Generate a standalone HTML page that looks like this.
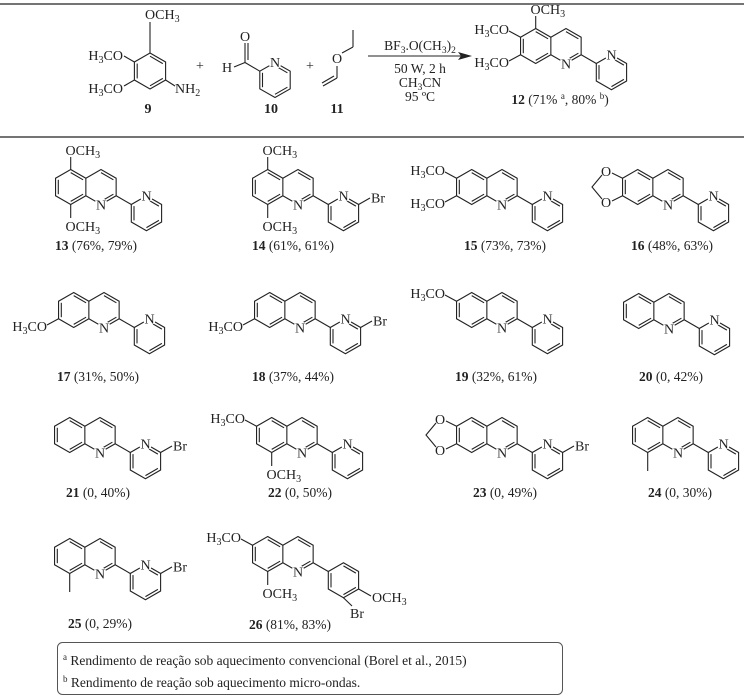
<!DOCTYPE html>
<html><head><meta charset="utf-8"><style>
html,body{margin:0;padding:0;background:#fff;}
svg{display:block;}
text{font-family:"Liberation Serif",serif;font-size:14px;fill:#222;}
.l{font-size:13.5px;}
</style></head><body>
<svg width="749" height="697" viewBox="0 0 749 697" xmlns="http://www.w3.org/2000/svg">
<defs>
<g id="q" stroke="#222" stroke-width="1.1" fill="none">
<polygon points="-30.3,-17.5 -15.15,-8.75 -15.15,8.75 -30.3,17.5 -45.45,8.75 -45.45,-8.75"/>
<polyline points="-15.15,-8.75 0,-17.5 15.15,-8.75 15.15,8.75 0,17.5 -15.15,8.75"/>
<line x1="-17.9" y1="-7.2" x2="-30.3" y2="-14.35"/>
<line x1="-42.7" y1="-7.2" x2="-42.7" y2="7.2"/>
<line x1="-30.3" y1="14.35" x2="-17.9" y2="7.2"/>
<line x1="0" y1="-14.35" x2="12.4" y2="-7.2"/>
<line x1="12.4" y1="7.2" x2="0" y2="14.35"/>
<circle cx="0" cy="17.5" r="6.5" fill="#fff" stroke="none"/>
</g>
<g id="p" stroke="#222" stroke-width="1.1" fill="none">
<line x1="15.15" y1="8.75" x2="30.3" y2="17.5"/>
<polygon points="45.45,8.75 60.6,17.5 60.6,35 45.45,43.75 30.3,35 30.3,17.5"/>
<line x1="33" y1="19.1" x2="33" y2="33.4"/>
<line x1="45.45" y1="40.6" x2="57.9" y2="33.4"/>
<line x1="45.45" y1="11.9" x2="57.9" y2="19.1"/>
<circle cx="45.45" cy="8.75" r="6.5" fill="#fff" stroke="none"/>
</g>
<g id="a" stroke="#222" stroke-width="1.1" fill="none">
<line x1="15.15" y1="8.75" x2="30.3" y2="17.5"/>
<polygon points="45.45,8.75 60.6,17.5 60.6,35 45.45,43.75 30.3,35 30.3,17.5"/>
<line x1="33" y1="19.1" x2="33" y2="33.4"/>
<line x1="45.45" y1="40.6" x2="57.9" y2="33.4"/>
<line x1="45.45" y1="11.9" x2="57.9" y2="19.1"/>
</g>
<g id="br" stroke="#222" stroke-width="1.1"><line x1="60.6" y1="17.5" x2="72" y2="11"/></g>
<g id="c5" stroke="#222" stroke-width="1.1"><line x1="-30.3" y1="-17.5" x2="-30.3" y2="-30"/></g>
<g id="c8" stroke="#222" stroke-width="1.1"><line x1="-30.3" y1="17.5" x2="-30.3" y2="31"/></g>
<g id="me" stroke="#222" stroke-width="1.1"><line x1="-30.3" y1="17.5" x2="-30.3" y2="36"/></g>
<g id="c6" stroke="#222" stroke-width="1.1"><line x1="-45.45" y1="-8.75" x2="-57" y2="-15"/></g>
<g id="c7" stroke="#222" stroke-width="1.1"><line x1="-45.45" y1="8.75" x2="-57" y2="15"/></g>
<g id="md" stroke="#222" stroke-width="1.1" fill="none">
<line x1="-45.45" y1="-8.75" x2="-56" y2="-14"/>
<line x1="-45.45" y1="8.75" x2="-56" y2="14"/>
<polyline points="-66,-12 -76,0 -66,12"/>
</g>
</defs>

<line x1="0" y1="4" x2="744" y2="4" stroke="#222" stroke-width="1.3"/>
<line x1="0" y1="137" x2="744" y2="137" stroke="#222" stroke-width="1.3"/>

<!-- compound 9 -->
<g stroke="#222" stroke-width="1.1" fill="none">
<polygon points="150,53 165.6,62 165.6,80 150,89 134.4,80 134.4,62"/>
<line x1="137.2" y1="63.6" x2="137.2" y2="78.4"/>
<line x1="150" y1="85.8" x2="162.8" y2="78.4"/>
<line x1="150" y1="56.2" x2="162.8" y2="63.6"/>
<line x1="150" y1="53" x2="150" y2="22"/>
<line x1="134.4" y1="62" x2="124" y2="56"/>
<line x1="134.4" y1="80" x2="124" y2="86"/>
<line x1="165.6" y1="80" x2="175" y2="86"/>
</g>
<text x="145" y="19">OCH<tspan font-size="10" dy="3">3</tspan></text>
<text x="123" y="60" text-anchor="end">H<tspan font-size="10" dy="3">3</tspan><tspan dy="-3">CO</tspan></text>
<text x="123" y="93" text-anchor="end">H<tspan font-size="10" dy="3">3</tspan><tspan dy="-3">CO</tspan></text>
<text x="175" y="93">NH<tspan font-size="10" dy="3">2</tspan></text>
<text x="148" y="113" text-anchor="middle" font-weight="bold">9</text>
<text x="200" y="70" text-anchor="middle">+</text>

<!-- compound 10 -->
<g stroke="#222" stroke-width="1.1" fill="none">
<polygon points="275,62.5 290.2,71.2 290.2,88.8 275,97.5 259.8,88.8 259.8,71.2"/>
<line x1="262.5" y1="72.8" x2="262.5" y2="87.2"/>
<line x1="275" y1="94.3" x2="287.4" y2="87.2"/>
<line x1="275" y1="65.7" x2="287.4" y2="72.8"/>
<line x1="259.8" y1="71.2" x2="245" y2="62.5"/>
<line x1="245" y1="62.5" x2="245" y2="43"/>
<line x1="248" y1="60" x2="248" y2="43"/>
<line x1="245" y1="62.5" x2="234" y2="67"/>
</g>
<circle cx="275" cy="62.5" r="6.5" fill="#fff"/>
<text x="270" y="67">N</text>
<text x="240" y="41">O</text>
<text x="222" y="72">H</text>
<text x="271" y="113" text-anchor="middle" font-weight="bold">10</text>
<text x="310" y="70" text-anchor="middle">+</text>

<!-- compound 11 -->
<g stroke="#222" stroke-width="1.1" fill="none">
<line x1="342" y1="53" x2="353" y2="47"/>
<line x1="353" y1="47" x2="353" y2="30"/>
<line x1="337" y1="66" x2="337" y2="78"/>
<line x1="337" y1="78" x2="323" y2="86"/>
<line x1="334" y1="76" x2="322" y2="83"/>
</g>
<text x="332" y="63">O</text>
<text x="337" y="113" text-anchor="middle" font-weight="bold">11</text>

<!-- arrow -->
<line x1="368" y1="56" x2="462" y2="56" stroke="#222" stroke-width="1.1"/>
<polygon points="472,56 458,52 461,56 458,60" fill="#222"/>
<text x="420" y="50" text-anchor="middle" class="l">BF<tspan font-size="9.5" dy="3">3</tspan><tspan dy="-3">.O(CH</tspan><tspan font-size="9.5" dy="3">3</tspan><tspan dy="-3">)</tspan><tspan font-size="9.5" dy="3">2</tspan></text>
<text x="420" y="73" text-anchor="middle" class="l">50 W, 2 h</text>
<text x="420" y="87" text-anchor="middle" class="l">CH<tspan font-size="9.5" dy="3">3</tspan><tspan dy="-3">CN</tspan></text>
<text x="420" y="101" text-anchor="middle" class="l">95 ºC</text>

<!-- compound 12 -->
<g transform="translate(566,46)">
<use href="#q"/><use href="#p"/><use href="#c5"/><use href="#c6"/><use href="#c7"/>
<text x="-5" y="22.5">N</text><text x="40.5" y="13.5">N</text>
<text x="-35.5" y="-32">OCH<tspan font-size="10" dy="3">3</tspan></text>
<text x="-57" y="-12" text-anchor="end">H<tspan font-size="10" dy="3">3</tspan><tspan dy="-3">CO</tspan></text>
<text x="-57" y="21" text-anchor="end">H<tspan font-size="10" dy="3">3</tspan><tspan dy="-3">CO</tspan></text>
</g>
<text x="560" y="104" text-anchor="middle" class="l"><tspan font-weight="bold">12</tspan> (71% <tspan font-size="9" dy="-5">a</tspan><tspan dy="5">, 80% </tspan><tspan font-size="9" dy="-5">b</tspan><tspan dy="5">)</tspan></text>

<!-- Row 1 -->
<g transform="translate(101,187)">
<use href="#q"/><use href="#p"/><use href="#c5"/><use href="#c8"/>
<text x="-5" y="22.5">N</text><text x="40.5" y="13.5">N</text>
<text x="-35.5" y="-32">OCH<tspan font-size="10" dy="3">3</tspan></text>
<text x="-35.5" y="44">OCH<tspan font-size="10" dy="3">3</tspan></text>
</g>
<text x="96" y="250" text-anchor="middle" class="l"><tspan font-weight="bold">13</tspan> (76%, 79%)</text>

<g transform="translate(298,187)">
<use href="#q"/><use href="#p"/><use href="#c5"/><use href="#c8"/><use href="#br"/>
<text x="-5" y="22.5">N</text><text x="40.5" y="13.5">N</text><text x="73" y="15.5">Br</text>
<text x="-35.5" y="-32">OCH<tspan font-size="10" dy="3">3</tspan></text>
<text x="-35.5" y="44">OCH<tspan font-size="10" dy="3">3</tspan></text>
</g>
<text x="293" y="250" text-anchor="middle" class="l"><tspan font-weight="bold">14</tspan> (61%, 61%)</text>

<g transform="translate(502,187)">
<use href="#q"/><use href="#p"/><use href="#c6"/><use href="#c7"/>
<text x="-5" y="22.5">N</text><text x="40.5" y="13.5">N</text>
<text x="-57" y="-12" text-anchor="end">H<tspan font-size="10" dy="3">3</tspan><tspan dy="-3">CO</tspan></text>
<text x="-57" y="21" text-anchor="end">H<tspan font-size="10" dy="3">3</tspan><tspan dy="-3">CO</tspan></text>
</g>
<text x="505" y="250" text-anchor="middle" class="l"><tspan font-weight="bold">15</tspan> (73%, 73%)</text>

<g transform="translate(668,187)">
<use href="#q"/><use href="#p"/><use href="#md"/>
<text x="-5" y="22.5">N</text><text x="40.5" y="13.5">N</text>
<text x="-67" y="-11">O</text><text x="-67" y="20">O</text>
</g>
<text x="672" y="250" text-anchor="middle" class="l"><tspan font-weight="bold">16</tspan> (48%, 63%)</text>

<!-- Row 2 -->
<g transform="translate(104,310)">
<use href="#q"/><use href="#p"/><use href="#c7"/>
<text x="-5" y="22.5">N</text><text x="40.5" y="13.5">N</text>
<text x="-57" y="21" text-anchor="end">H<tspan font-size="10" dy="3">3</tspan><tspan dy="-3">CO</tspan></text>
</g>
<text x="98" y="381" text-anchor="middle" class="l"><tspan font-weight="bold">17</tspan> (31%, 50%)</text>

<g transform="translate(300,310)">
<use href="#q"/><use href="#p"/><use href="#c7"/><use href="#br"/>
<text x="-5" y="22.5">N</text><text x="40.5" y="13.5">N</text><text x="73" y="15.5">Br</text>
<text x="-57" y="21" text-anchor="end">H<tspan font-size="10" dy="3">3</tspan><tspan dy="-3">CO</tspan></text>
</g>
<text x="293" y="381" text-anchor="middle" class="l"><tspan font-weight="bold">18</tspan> (37%, 44%)</text>

<g transform="translate(502,310)">
<use href="#q"/><use href="#p"/><use href="#c6"/>
<text x="-5" y="22.5">N</text><text x="40.5" y="13.5">N</text>
<text x="-57" y="-12" text-anchor="end">H<tspan font-size="10" dy="3">3</tspan><tspan dy="-3">CO</tspan></text>
</g>
<text x="496" y="381" text-anchor="middle" class="l"><tspan font-weight="bold">19</tspan> (32%, 61%)</text>

<g transform="translate(669,311)">
<use href="#q"/><use href="#p"/>
<text x="-5" y="22.5">N</text><text x="40.5" y="13.5">N</text>
</g>
<text x="671" y="381" text-anchor="middle" class="l"><tspan font-weight="bold">20</tspan> (0, 42%)</text>

<!-- Row 3 -->
<g transform="translate(100,435)">
<use href="#q"/><use href="#p"/><use href="#br"/>
<text x="-5" y="22.5">N</text><text x="40.5" y="13.5">N</text><text x="73" y="15.5">Br</text>
</g>
<text x="98" y="497" text-anchor="middle" class="l"><tspan font-weight="bold">21</tspan> (0, 40%)</text>

<g transform="translate(302,435)">
<use href="#q"/><use href="#p"/><use href="#c6"/><use href="#c8"/>
<text x="-5" y="22.5">N</text><text x="40.5" y="13.5">N</text>
<text x="-57" y="-12" text-anchor="end">H<tspan font-size="10" dy="3">3</tspan><tspan dy="-3">CO</tspan></text>
<text x="-35.5" y="44">OCH<tspan font-size="10" dy="3">3</tspan></text>
</g>
<text x="300" y="497" text-anchor="middle" class="l"><tspan font-weight="bold">22</tspan> (0, 50%)</text>

<g transform="translate(502,435)">
<use href="#q"/><use href="#p"/><use href="#md"/><use href="#br"/>
<text x="-5" y="22.5">N</text><text x="40.5" y="13.5">N</text><text x="73" y="15.5">Br</text>
<text x="-67" y="-11">O</text><text x="-67" y="20">O</text>
</g>
<text x="505" y="497" text-anchor="middle" class="l"><tspan font-weight="bold">23</tspan> (0, 49%)</text>

<g transform="translate(678,435)">
<use href="#q"/><use href="#p"/><use href="#me"/>
<text x="-5" y="22.5">N</text><text x="40.5" y="13.5">N</text>
</g>
<text x="680" y="497" text-anchor="middle" class="l"><tspan font-weight="bold">24</tspan> (0, 30%)</text>

<!-- Row 4 -->
<g transform="translate(100,556)">
<use href="#q"/><use href="#p"/><use href="#me"/><use href="#br"/>
<text x="-5" y="22.5">N</text><text x="40.5" y="13.5">N</text><text x="73" y="15.5">Br</text>
</g>
<text x="100" y="628" text-anchor="middle" class="l"><tspan font-weight="bold">25</tspan> (0, 29%)</text>

<g transform="translate(298,554)">
<use href="#q"/><use href="#a"/><use href="#c6"/><use href="#c8"/>
<line x1="60.6" y1="35" x2="73" y2="42" stroke="#222" stroke-width="1.1"/>
<line x1="45.45" y1="43.75" x2="54" y2="52" stroke="#222" stroke-width="1.1"/>
<text x="-5" y="22.5">N</text>
<text x="-57" y="-12" text-anchor="end">H<tspan font-size="10" dy="3">3</tspan><tspan dy="-3">CO</tspan></text>
<text x="-35.5" y="44">OCH<tspan font-size="10" dy="3">3</tspan></text>
<text x="74" y="48">OCH<tspan font-size="10" dy="3">3</tspan></text>
<text x="52" y="64">Br</text>
</g>
<text x="290" y="629" text-anchor="middle" class="l"><tspan font-weight="bold">26</tspan> (81%, 83%)</text>

<!-- footnote -->
<rect x="57.5" y="642.5" width="505" height="52" rx="5" ry="5" fill="none" stroke="#555" stroke-width="1"/>
<text x="63" y="665" class="l"><tspan font-size="9" dy="-5">a</tspan><tspan dy="5"> Rendimento de reação sob aquecimento convencional (Borel et al., 2015)</tspan></text>
<text x="63" y="687" class="l"><tspan font-size="9" dy="-5">b</tspan><tspan dy="5"> Rendimento de reação sob aquecimento micro-ondas.</tspan></text>
</svg>
</body></html>
